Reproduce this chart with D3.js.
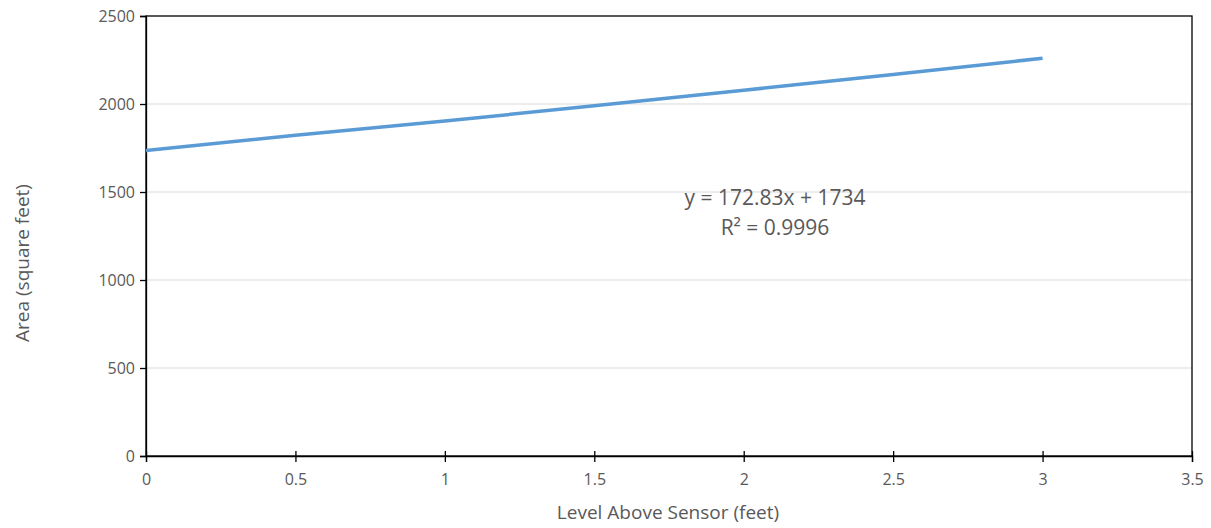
<!DOCTYPE html>
<html><head><meta charset="utf-8">
<script src="https://cdn.jsdelivr.net/npm/d3@7"></script>
<style>body{margin:0;background:#fff}svg{display:block}text{font-family:"Open Sans",sans-serif;fill:#595959}</style>
</head><body><svg id="c" width="1211" height="528"></svg>
<script>
const levels = [0, 0.5, 1, 1.5, 2, 2.5, 3];
const areas = [1736, 1822, 1903, 1990, 2078, 2168, 2260];
const xTicks = [0, 0.5, 1, 1.5, 2, 2.5, 3, 3.5];
const yTicks = [0, 500, 1000, 1500, 2000, 2500];
const eqLines = ["y = 172.83x + 1734", "R² = 0.9996"];

const svg = d3.select("#c");
const L = 146, R = 1192, T = 16, B = 456;
const x = d3.scaleLinear().domain([0, 3.5]).range([L, R]);
const y = d3.scaleLinear().domain([0, 2500]).range([B, T]);

// gridlines
svg.append("g").selectAll("line").data(yTicks.filter(d => d > 0 && d < 2500)).join("line")
  .attr("x1", L).attr("x2", R).attr("y1", d => y(d)).attr("y2", d => y(d))
  .attr("stroke", "#d9d9d9").attr("stroke-width", 1.2);

// frame
svg.append("rect").attr("x", L).attr("y", T).attr("width", R - L).attr("height", B - T)
  .attr("fill", "none").attr("stroke", "#000").attr("stroke-width", 1.3);

// y axis
const ya = svg.append("g").attr("transform", `translate(${L},0)`)
  .call(d3.axisLeft(y).tickValues(yTicks).tickSize(6).tickPadding(5).tickFormat(d3.format("d")));
ya.select(".domain").attr("stroke", "#000").attr("stroke-width", 1.3);
ya.selectAll(".tick line").attr("stroke", "#000").attr("stroke-width", 1.3);
ya.selectAll("text").style("font-size", "16px").attr("fill", "#595959");

// x axis
const xa = svg.append("g").attr("transform", `translate(0,${B})`)
  .call(d3.axisBottom(x).tickValues(xTicks).tickSize(6).tickPadding(12).tickFormat(d => d3.format("")(d)));
xa.select(".domain").attr("stroke", "#000").attr("stroke-width", 1.3);
xa.selectAll(".tick line").attr("stroke", "#000").attr("stroke-width", 1.3).attr("y1", -5);
xa.selectAll("text").style("font-size", "16px").attr("fill", "#595959");

// line
svg.append("path").datum(levels.map((d, i) => [d, areas[i]]))
  .attr("d", d3.line().x(d => x(d[0])).y(d => y(d[1])))
  .attr("fill", "none").attr("stroke", "#5b9bd5").attr("stroke-width", 3.5);

// equation
svg.append("g").selectAll("text").data(eqLines).join("text")
  .attr("x", 775).attr("y", (d, i) => 205 + i * 30).attr("text-anchor", "middle")
  .style("font-size", "21px").text(d => d);

// axis titles
svg.append("text").attr("x", 668).attr("y", 519).attr("text-anchor", "middle")
  .style("font-size", "19px").text("Level Above Sensor (feet)");
svg.append("text").attr("transform", `translate(29,263) rotate(-90)`)
  .attr("text-anchor", "middle").style("font-size", "19px").text("Area (square feet)");
</script></body></html>
